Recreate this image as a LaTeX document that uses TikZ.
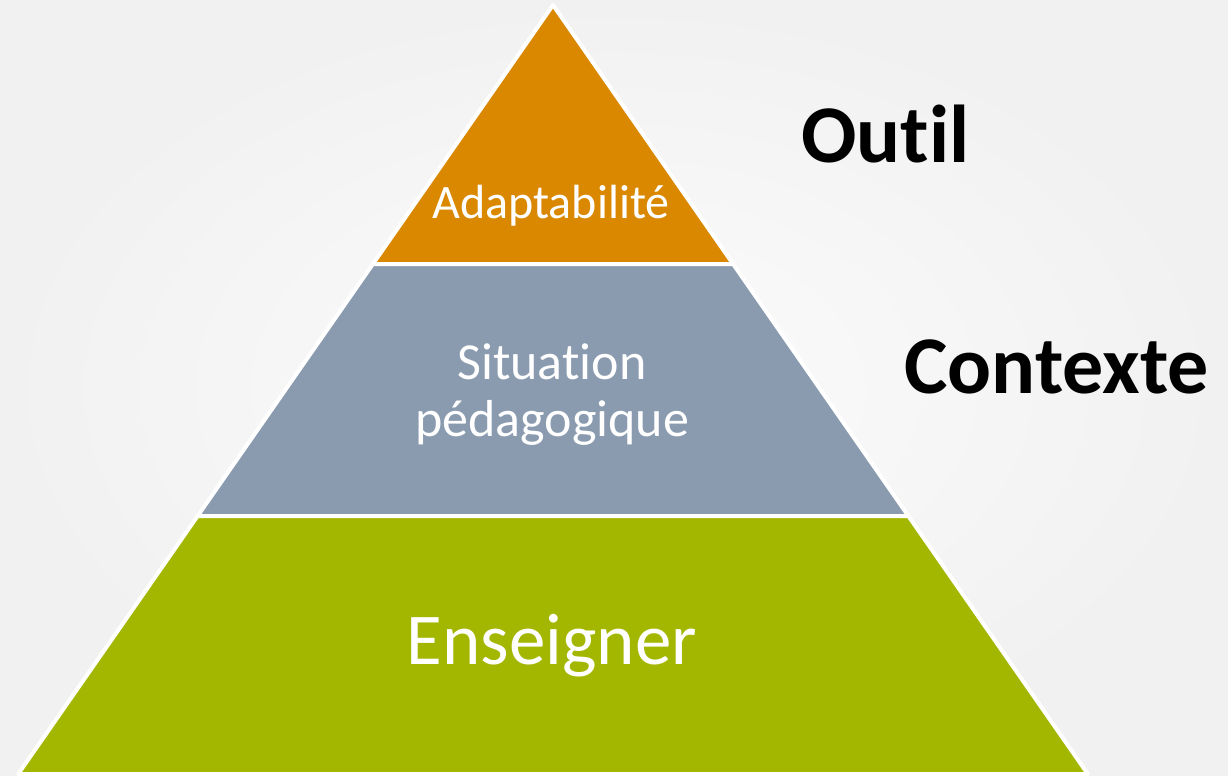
\documentclass[tikz,border=0pt]{standalone}
\usepackage{fontspec}
\setmainfont{Carlito}[RawFeature={-liga;-clig;-dlig;-calt}]
\definecolor{bgout}{RGB}{241,241,241}
\definecolor{bgin}{RGB}{252,252,252}
\definecolor{toporange}{RGB}{218,136,0}
\definecolor{midgray}{RGB}{138,155,176}
\definecolor{basegreen}{RGB}{164,183,0}
\tikzset{
  layer/.style={draw=white, line width=2pt, line join=round},
  inlabel/.style={text=white, align=center, inner sep=0pt},
  sidelabel/.style={text=black, font=\fontsize{41}{49}\selectfont\bfseries, inner sep=0pt, anchor=base west}
}
\begin{document}
\begin{tikzpicture}[x=0.5pt,y=-0.5pt]
  \useasboundingbox (0,0) rectangle (1228,776);
  \shade[inner color=bgin, outer color=bgout] (0,0) rectangle (1228,776);
  % layers
  \fill[toporange, layer] (553,5) -- (733.1,264) -- (372.9,264) -- cycle;
  \fill[midgray, layer] (372.9,264) -- (733.1,264) -- (908.4,516) -- (197.6,516) -- cycle;
  \fill[basegreen, layer] (197.6,516) -- (908.4,516) -- (1087.8,774) -- (18.2,774) -- cycle;
  % labels
  \node[inlabel, font=\fontsize{24}{29}\selectfont] (adapt) at (551,206) {Adaptabilité};
  \node[inlabel, font=\fontsize{26}{28.5}\selectfont] (situ) at (552,395) {Situat\kern0pt ion\\pédagogique};
  \node[inlabel, font=\fontsize{36.5}{44}\selectfont] (ens) at (552,646) {Enseigner};
  \node[sidelabel] (outil) at (801,162) {Out\kern0pt il};
  \node[sidelabel] (ctx) at (904,393) {Contexte};
\end{tikzpicture}
\end{document}
